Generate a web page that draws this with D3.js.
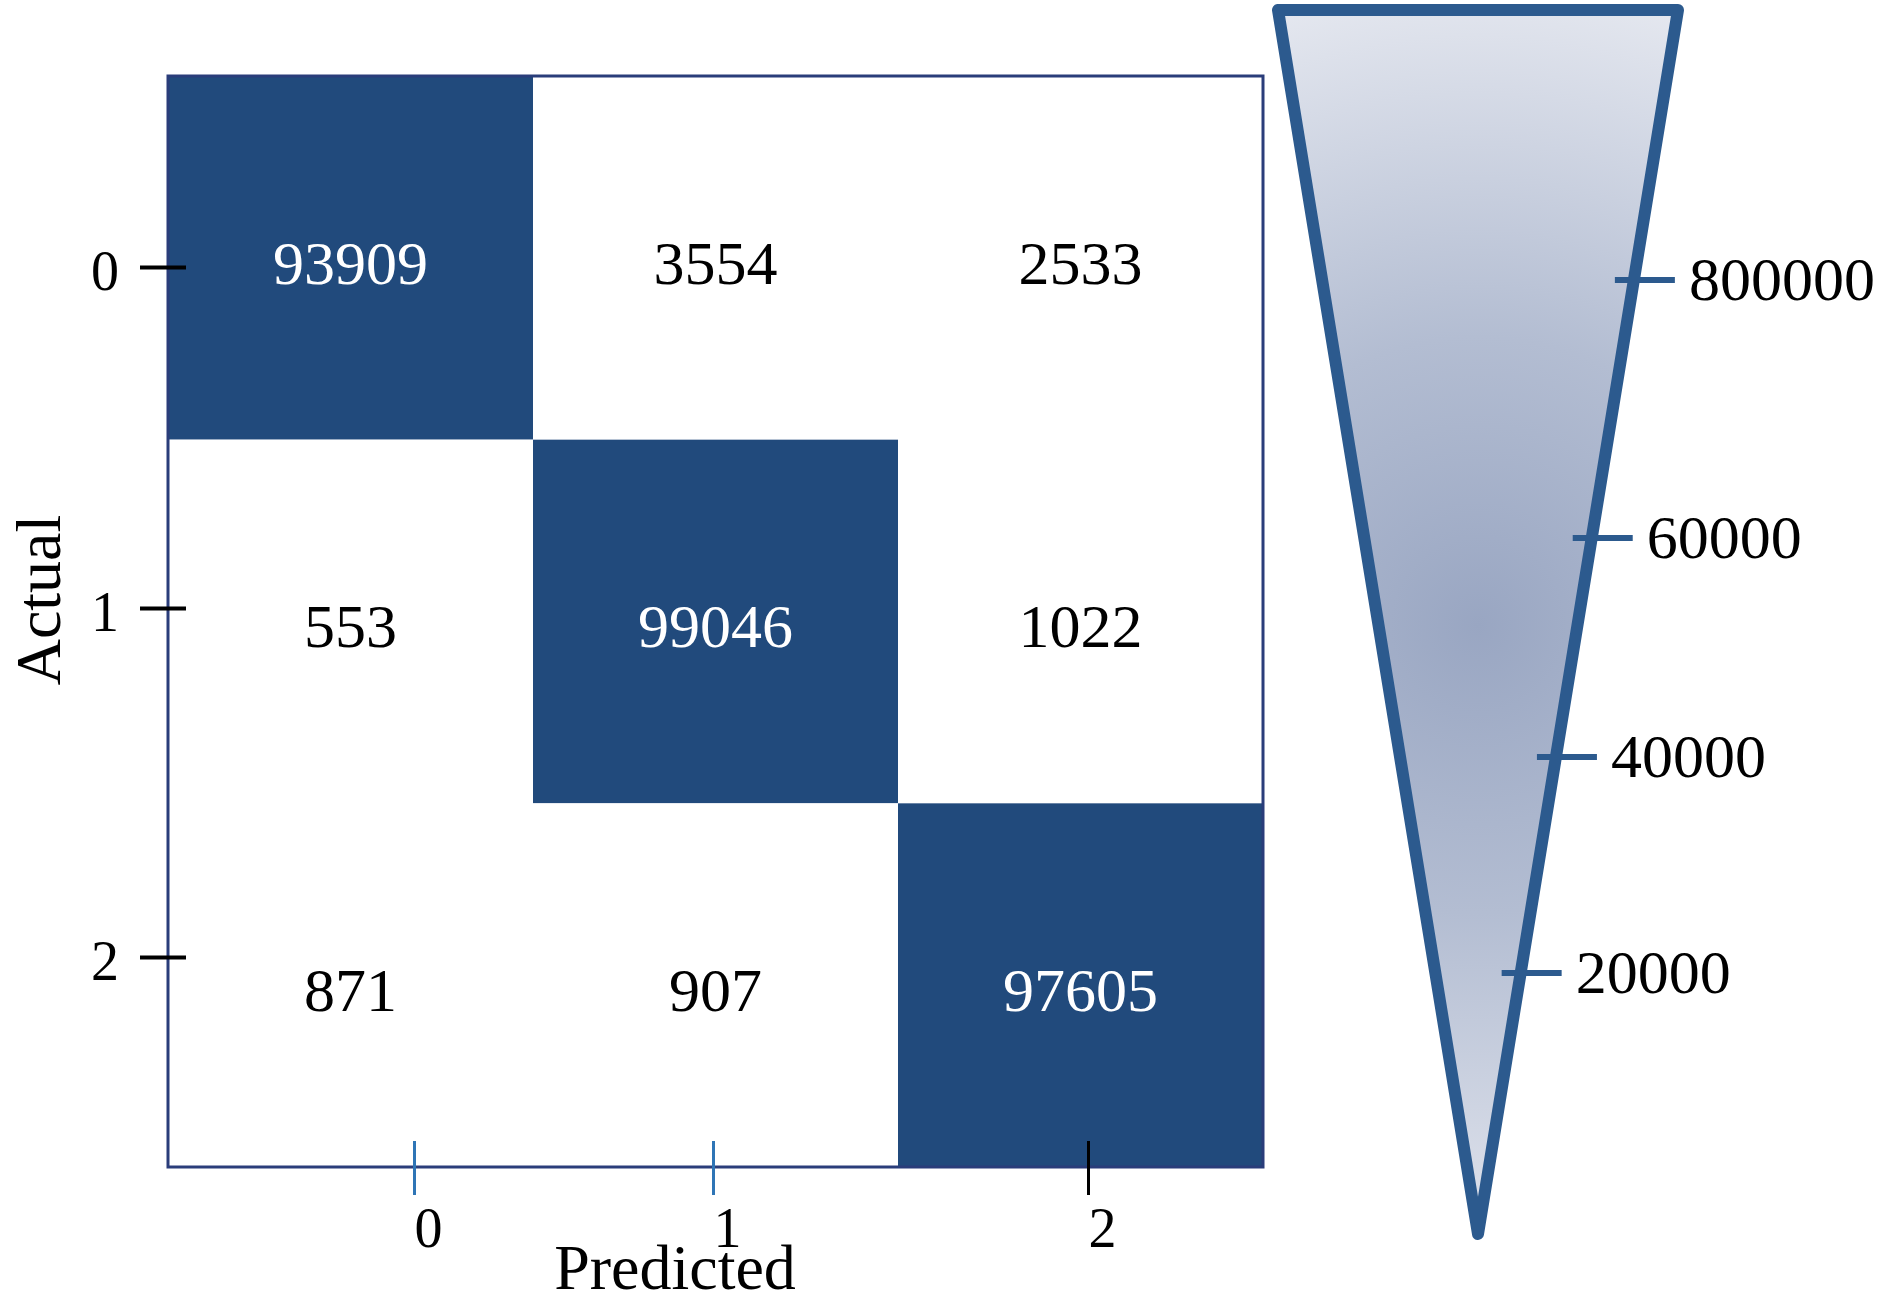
<!DOCTYPE html>
<html>
<head>
<meta charset="utf-8">
<script src="https://cdn.jsdelivr.net/npm/d3@7"></script>
<style>
body { margin: 0; background: #fff; }
</style>
</head>
<body>
<script>
// Confusion matrix: rows = actual class, columns = predicted class
const classes = ["0", "1", "2"];
const row0 = [93909, 3554, 2533];
const row1 = [553, 99046, 1022];
const row2 = [871, 907, 97605];
const matrix = [row0, row1, row2];

// colour bar ticks (the top label really reads 800000 in the original)
const barTicks = [20000, 40000, 60000, 80000];
const barTickLabels = ["20000", "40000", "60000", "800000"];

const xTitle = "Predicted";
const yTitle = "Actual";

const outerWidth = 1883;
const outerHeight = 1303;
const serif = "'Liberation Serif', 'Times New Roman', serif";

const svg = d3.select("body").append("svg")
    .attr("width", outerWidth)
    .attr("height", outerHeight);

// flatten matrix into cells
const cells = [];
matrix.forEach((row, i) => {
    row.forEach((v, j) => cells.push({actual: classes[i], predicted: classes[j], value: v}));
});

const xScale = d3.scaleBand().domain(classes).range([168, 1263]);
const yScale = d3.scaleBand().domain(classes).range([76, 1167]);
const color = d3.scaleThreshold().domain([50000]).range(["#ffffff", "#214a7c"]);

svg.append("g").selectAll("rect")
    .data(cells)
    .join("rect")
    .attr("x", d => xScale(d.predicted))
    .attr("y", d => yScale(d.actual))
    .attr("width", xScale.bandwidth())
    .attr("height", yScale.bandwidth())
    .attr("fill", d => color(d.value));

// frame round the matrix
svg.append("rect")
    .attr("x", xScale.range()[0])
    .attr("y", yScale.range()[0])
    .attr("width", xScale.range()[1] - xScale.range()[0])
    .attr("height", yScale.range()[1] - yScale.range()[0])
    .attr("fill", "none")
    .attr("stroke", "#2a3d7a")
    .attr("stroke-width", 3);

svg.append("g").selectAll("text")
    .data(cells)
    .join("text")
    .attr("x", d => xScale(d.predicted) + xScale.bandwidth() / 2)
    .attr("y", d => yScale(d.actual) + yScale.bandwidth() / 2 + 4)
    .attr("dy", "0.35em")
    .attr("text-anchor", "middle")
    .attr("font-family", serif)
    .attr("font-size", 62)
    .attr("fill", d => d.value > 50000 ? "#ffffff" : "#000000")
    .text(d => d.value);

// axes - tick positions are a little off the cell centres in the original
const yTickScale = d3.scaleOrdinal().domain(classes).range([267, 608, 957]);
const xTickScale = d3.scaleOrdinal().domain(classes).range([414, 713, 1088]);
const xTickColors = ["#2e75b6", "#2e75b6", "#000000"];

const yAxis = svg.append("g")
    .attr("transform", "translate(186,0)")
    .call(d3.axisLeft(yTickScale).tickSize(46).tickPadding(21));
yAxis.select(".domain").remove();
yAxis.attr("font-family", serif).attr("font-size", 56);
yAxis.selectAll("line").attr("stroke", "#000").attr("stroke-width", 4);
yAxis.selectAll("text").attr("fill", "#000").attr("dy", "0.4em");

const xAxis = svg.append("g")
    .attr("transform", "translate(0,1141)")
    .call(d3.axisBottom(xTickScale).tickSize(54).tickPadding(12));
xAxis.select(".domain").remove();
xAxis.attr("font-family", serif).attr("font-size", 56);
xAxis.selectAll("line").attr("stroke", (d, i) => xTickColors[i]).attr("stroke-width", 3);
xAxis.selectAll("text").attr("fill", "#000").attr("dx", 14);

svg.append("text")
    .attr("x", 675)
    .attr("y", 1289)
    .attr("text-anchor", "middle")
    .attr("font-family", serif)
    .attr("font-size", 64)
    .text(xTitle);

svg.append("text")
    .attr("transform", "translate(60,600) rotate(-90)")
    .attr("text-anchor", "middle")
    .attr("font-family", serif)
    .attr("font-size", 64)
    .text(yTitle);

// colour bar drawn as a funnel
const barTop = 10, barBottom = 1234, barCx = 1478, barHalf = 200;

const defs = svg.append("defs");
const grad = defs.append("radialGradient")
    .attr("id", "barFill")
    .attr("gradientUnits", "userSpaceOnUse")
    .attr("cx", barCx).attr("cy", 625).attr("r", 640);
grad.append("stop").attr("offset", "0").attr("stop-color", "#99a6c2");
grad.append("stop").attr("offset", "0.45").attr("stop-color", "#b3bdd2");
grad.append("stop").attr("offset", "1").attr("stop-color", "#e4e7ef");

const funnel = d3.line();
svg.append("path")
    .attr("d", funnel([[barCx - barHalf, barTop], [barCx + barHalf, barTop], [barCx, barBottom]]) + "Z")
    .attr("fill", "url(#barFill)")
    .attr("stroke", "#2c5a8e")
    .attr("stroke-width", 12)
    .attr("stroke-linejoin", "round");

// right edge of the funnel, x as a function of y
const edgeX = d3.scaleLinear().domain([barTop, barBottom]).range([barCx + barHalf, barCx]);
const barY = d3.scaleLinear().domain(barTicks).range([973, 757, 538, 280]);

const barAxis = svg.append("g");
barAxis.selectAll("line")
    .data(barTicks)
    .join("line")
    .attr("x1", d => edgeX(barY(d)) - 19)
    .attr("x2", d => edgeX(barY(d)) + 41)
    .attr("y1", d => barY(d))
    .attr("y2", d => barY(d))
    .attr("stroke", "#2c5a8e")
    .attr("stroke-width", 6);

barAxis.selectAll("text")
    .data(barTicks)
    .join("text")
    .attr("x", d => edgeX(barY(d)) + 55)
    .attr("y", d => barY(d))
    .attr("dy", "0.33em")
    .attr("font-family", serif)
    .attr("font-size", 62)
    .attr("fill", "#000")
    .text((d, i) => barTickLabels[i]);
</script>
</body>
</html>
